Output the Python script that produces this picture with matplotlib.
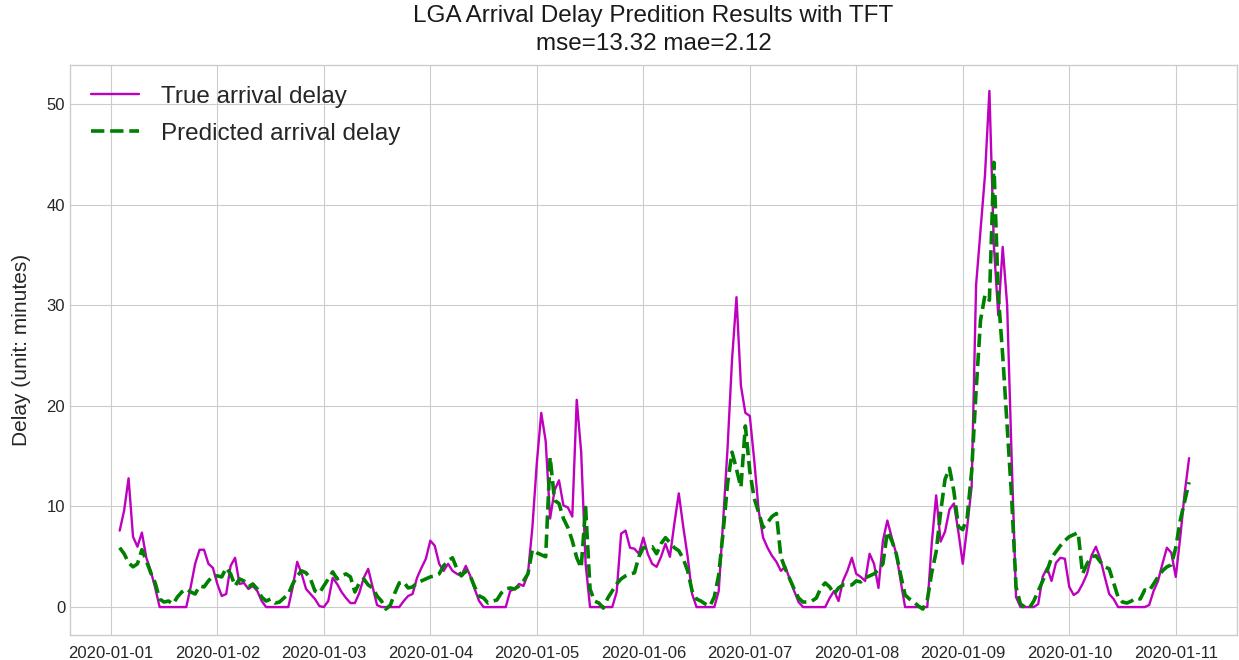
import matplotlib
matplotlib.use("Agg")
import matplotlib.pyplot as plt
import matplotlib.dates as mdates
import pandas as pd
import numpy as np

plt.style.use("seaborn-v0_8-whitegrid")
plt.rcParams['font.family'] = ['Liberation Sans', 'DejaVu Sans']

title = "LGA Arrival Delay Predition Results with TFT\nmse=13.32 mae=2.12"
ylabel = "Delay (unit: minutes)"
label_true = "True arrival delay"
label_pred = "Predicted arrival delay"

start_time = "2020-01-01 02:00"

true_delay = [
    7.6, 9.6, 12.8, 7.0, 6.0, 7.4, 4.9, 3.6, 1.9, 0, 0, 0, 0, 0, 0, 0, 2.0, 4.3, 5.7, 5.7, 4.3, 3.9, 2.3, 1.1,
    1.3, 4.1, 4.9, 2.3, 2.4, 1.8, 2.1, 1.6, 0.6, 0, 0, 0, 0, 0, 0, 2.0, 4.5, 3.3, 1.8, 1.3, 0.8, 0.1, 0, 0.6,
    2.9, 2.3, 1.5, 0.9, 0.4, 0.4, 1.4, 2.9, 3.8, 2.0, 0.2, 0, 0, 0, 0, 0, 0.6, 1.1, 1.3, 2.9, 3.9, 4.8, 6.6, 6.1,
    4.3, 3.6, 4.3, 3.6, 3.3, 3.1, 4.1, 3.1, 1.8, 0.6, 0, 0, 0, 0, 0, 0, 1.6, 1.8, 2.3, 2.1, 3.3, 7.9, 14.3, 19.3,
    16.5, 8.8, 11.6, 12.6, 10.1, 9.9, 9.0, 20.6, 15.4, 4.3, 0, 0, 0, 0, 0, 0, 1.5, 7.3, 7.6, 5.9, 5.8, 5.3, 6.9, 5.3,
    4.3, 4.0, 5.0, 6.3, 5.0, 8.3, 11.3, 8.0, 5.0, 1.3, 0, 0, 0, 0, 0, 1.6, 8.6, 15.9, 24.6, 30.8, 22.0, 19.3, 19.0, 14.6,
    9.6, 6.9, 5.9, 5.1, 4.5, 3.6, 4.0, 2.8, 1.6, 0.5, 0, 0, 0, 0, 0, 0, 0.9, 1.6, 0.6, 2.6, 3.6, 4.9, 3.3, 3.0,
    2.6, 5.3, 4.3, 1.9, 6.6, 8.6, 6.9, 5.3, 2.6, 0, 0, 0, 0, 0, 0, 6.3, 11.1, 6.5, 7.5, 9.7, 10.3, 7.5, 4.3, 8.0,
    12.0, 32.0, 37.5, 42.9, 51.3, 36.0, 29.0, 35.8, 30.0, 15.0, 1.0, 0, 0, 0, 0, 0.3, 3.0, 3.9, 2.6, 4.4, 4.9, 4.8, 2.0, 1.2,
    1.5, 2.3, 3.3, 5.1, 6.0, 4.8, 3.0, 1.3, 0.8, 0, 0, 0, 0, 0, 0, 0, 0.2, 1.6, 2.6, 4.3, 5.9, 5.4, 3.0, 6.9,
    11.3, 14.8,
]

pred_delay = [
    5.9, 5.3, 4.4, 4.0, 4.3, 5.7, 4.6, 3.4, 2.4, 0.8, 0.5, 0.6, 0.3, 1.0, 1.5, 1.8, 1.5, 1.3, 2.1, 2.0, 2.6, 3.1, 3.1, 3.0,
    3.9, 3.3, 2.1, 2.8, 2.6, 2.0, 2.3, 1.8, 1.0, 0.6, 0.8, 0.4, 0.5, 0.9, 1.3, 2.3, 3.1, 3.6, 3.4, 2.8, 1.6, 1.4, 2.1, 2.8,
    3.5, 2.8, 3.1, 3.3, 3.0, 1.5, 2.4, 2.8, 2.2, 1.9, 1.1, 0.6, -0.2, 0.2, 1.4, 2.4, 2.5, 1.9, 2.0, 2.4, 2.6, 2.8, 3.0, 3.1,
    3.3, 4.1, 4.6, 4.9, 3.8, 3.1, 3.6, 3.1, 2.0, 1.1, 0.9, 0.4, 0.6, 0.7, 1.4, 1.8, 1.9, 1.8, 2.1, 2.6, 3.3, 5.7, 5.4, 5.2,
    5.0, 14.9, 10.6, 10.3, 8.8, 7.9, 6.6, 4.9, 3.9, 9.9, 1.8, 0.6, 0.4, -0.1, 0.9, 1.6, 2.3, 2.8, 3.1, 3.3, 3.4, 5.0, 5.9, 5.9,
    6.0, 5.3, 6.3, 6.9, 6.4, 5.9, 5.6, 4.8, 3.6, 1.6, 0.8, 0.6, 0.3, 0.1, 1.0, 3.2, 7.5, 12.3, 15.4, 13.7, 11.9, 18.0, 13.5, 10.8,
    9.4, 7.9, 8.4, 9.0, 9.3, 5.0, 3.8, 2.8, 1.8, 0.9, 0.5, 0.5, 0.6, 0.9, 1.9, 2.4, 2.0, 1.3, 1.9, 2.2, 2.2, 2.2, 2.6, 2.5,
    2.9, 3.1, 3.3, 3.7, 4.3, 7.5, 6.6, 5.3, 3.2, 1.2, 0.8, 0.5, 0.1, -0.2, 0.7, 3.4, 5.5, 9.4, 12.7, 13.8, 11.5, 8.0, 7.7, 8.9,
    13.5, 21.5, 28.5, 31.0, 30.5, 44.2, 31.0, 25.0, 18.0, 11.0, 2.0, 0.3, 0.0, -0.1, 0.6, 1.6, 2.6, 3.6, 4.9, 5.5, 6.1, 6.6, 7.0, 7.2,
    7.4, 3.3, 4.3, 5.0, 5.1, 4.5, 4.0, 3.8, 2.4, 1.0, 0.5, 0.4, 0.6, 0.9, 0.8, 1.7, 1.6, 2.3, 3.0, 3.6, 4.0, 4.2, 5.9, 8.6,
    10.5, 12.4,
]

times = pd.date_range(start_time, periods=len(true_delay), freq="h")

fig = plt.figure(figsize=(12.39, 6.6), dpi=100)
ax = fig.add_axes([70 / 1239, 25 / 660, 1167 / 1239, 570 / 660])

ax.plot(times, true_delay, color="m", linewidth=1.7, label=label_true)
ax.plot(times, pred_delay, color="g", linestyle="--", linewidth=2.6, label=label_pred)

ax.set_xlim(times[0] - pd.Timedelta(hours=11.2), times[-1] + pd.Timedelta(hours=10.8))
ax.xaxis.set_major_locator(mdates.DayLocator())
ax.xaxis.set_major_formatter(mdates.DateFormatter("%Y-%m-%d"))
ax.tick_params(axis="both", labelsize=12, colors="0.15")
ax.tick_params(axis="x", pad=8)
ax.set_ylabel(ylabel, fontsize=15, color="0.15", labelpad=11)
ax.set_title(title, fontsize=17.5, color="0.1", pad=11, linespacing=1.35)
ax.legend(loc="upper left", fontsize=17.5, handlelength=2.0, labelspacing=0.62,
          borderaxespad=0.45, handletextpad=0.9)

fig.savefig("out.png", dpi=100)
